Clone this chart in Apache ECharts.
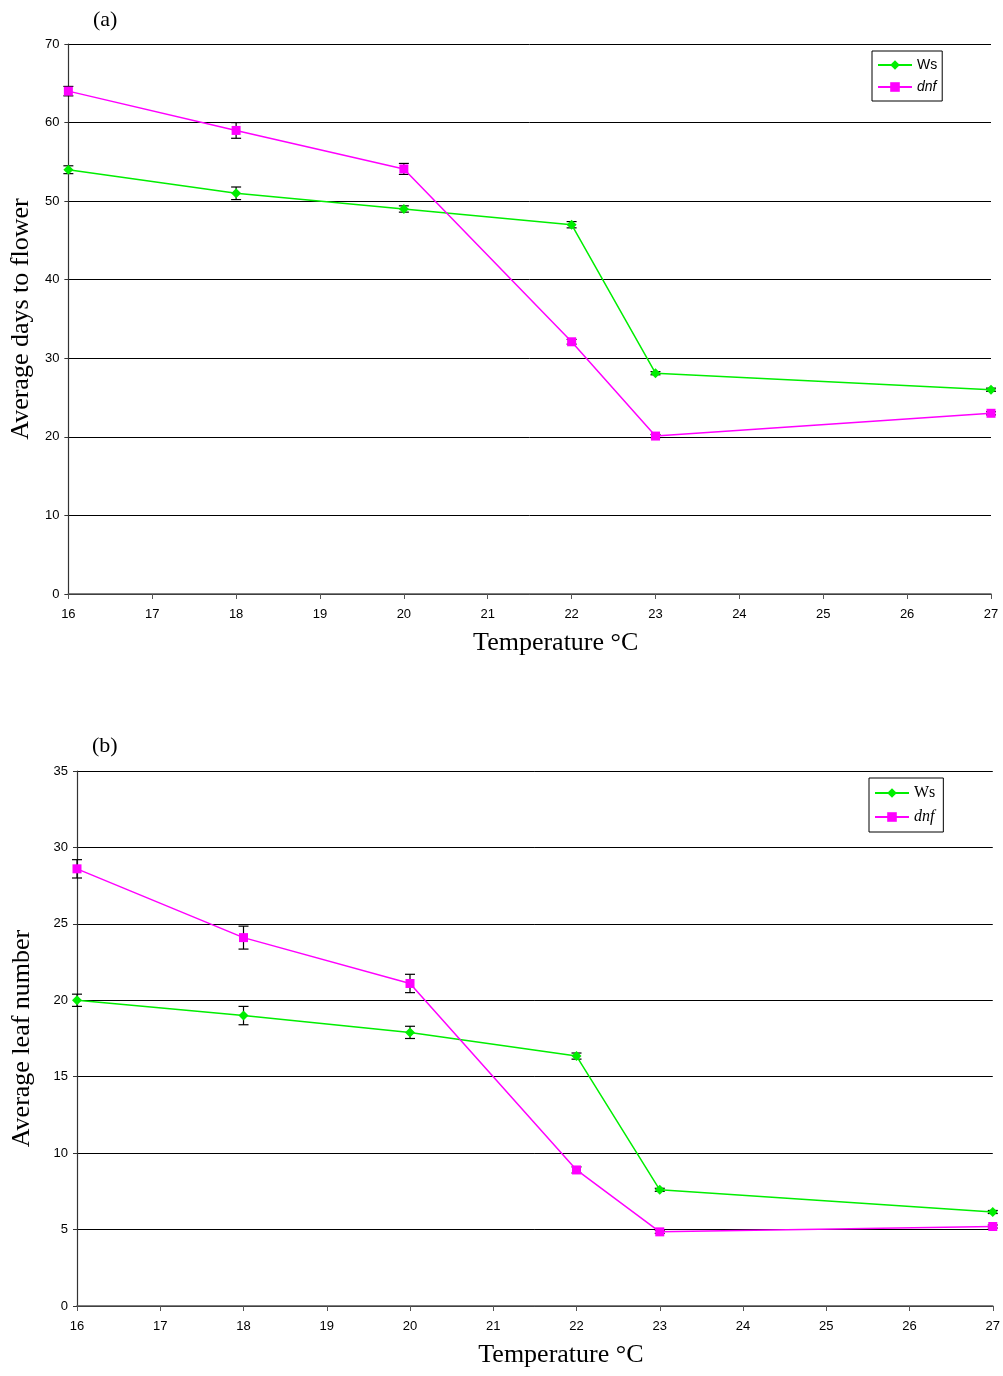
<!DOCTYPE html>
<html>
<head>
<meta charset="utf-8">
<style>
  html, body { margin: 0; padding: 0; background: #fff; }
  #chart { width: 1003px; height: 1376px; }
</style>
<script src="https://cdn.jsdelivr.net/npm/echarts@6/dist/echarts.min.js"></script>
</head>
<body>
<div id="chart"></div>
<script>
// Temperatures (x values, shared by both panels)
var temps = [16, 18, 20, 22, 23, 27];

// Panel (a): average days to flower
var daysWs = [54, 51, 49, 47, 28.1, 26];
var daysWsErr = [0.5, 0.8, 0.4, 0.4, 0.2, 0.2];
var daysDnf = [64, 59, 54.1, 32.1, 20.1, 23];
var daysDnfErr = [0.6, 1.0, 0.7, 0.3, 0.2, 0.2];

// Panel (b): average leaf number
var leafWs = [20.0, 19.0, 17.9, 16.35, 7.6, 6.15];
var leafWsErr = [0.4, 0.6, 0.4, 0.2, 0.1, 0.1];
var leafDnf = [28.6, 24.1, 21.1, 8.9, 4.85, 5.2];
var leafDnfErr = [0.6, 0.75, 0.6, 0.2, 0.1, 0.1];

var GREEN = '#00ee00';
var MAGENTA = '#ff00ff';

function pairs(xs, ys) {
  return xs.map(function (x, i) { return [x, ys[i]]; });
}

function errData(xs, ys, es) {
  return xs.map(function (x, i) { return [x, ys[i] - es[i], ys[i] + es[i]]; });
}

// draws a vertical error bar with caps
function renderErr(params, api) {
  var lo = api.coord([api.value(0), api.value(1)]);
  var hi = api.coord([api.value(0), api.value(2)]);
  var w = 5;
  var style = { stroke: '#000', lineWidth: 1.2 };
  return {
    type: 'group',
    children: [
      { type: 'line', shape: { x1: lo[0], y1: lo[1], x2: hi[0], y2: hi[1] }, style: style },
      { type: 'line', shape: { x1: lo[0] - w, y1: lo[1], x2: lo[0] + w, y2: lo[1] }, style: style },
      { type: 'line', shape: { x1: hi[0] - w, y1: hi[1], x2: hi[0] + w, y2: hi[1] }, style: style }
    ]
  };
}

function xAxisFor(idx) {
  return {
    type: 'value', gridIndex: idx, min: 16, max: 27, interval: 1,
    name: 'Temperature \u00b0C', nameLocation: 'middle', nameGap: 36,
    nameTextStyle: { fontFamily: 'Liberation Serif', fontSize: 26, color: '#000', padding: [0, 0, 0, 52] },
    axisLine: { lineStyle: { color: '#555', width: 1.5 } },
    axisTick: { show: true, length: 5, lineStyle: { color: '#555' } },
    axisLabel: { fontFamily: 'Liberation Sans', fontSize: 13, color: '#000', margin: 14 },
    splitLine: { show: false }
  };
}

function yAxisFor(idx, max, step, name, gap) {
  return {
    type: 'value', gridIndex: idx, min: 0, max: max, interval: step,
    name: name, nameLocation: 'middle', nameGap: gap,
    nameTextStyle: { fontFamily: 'Liberation Serif', fontSize: 26, color: '#000' },
    axisLine: { show: true, lineStyle: { color: '#333', width: 1.2 } },
    axisTick: { show: true, length: 4, lineStyle: { color: '#333' } },
    axisLabel: { fontFamily: 'Liberation Sans', fontSize: 13, color: '#000', margin: 9 },
    splitLine: { show: true, lineStyle: { color: '#000', width: 1 } }
  };
}

function lineSeries(name, idx, data, color, symbol) {
  return {
    name: name, type: 'line', xAxisIndex: idx, yAxisIndex: idx,
    data: data, symbol: symbol, symbolSize: symbol === 'rect' ? 9 : 10,
    lineStyle: { color: color, width: 1.5 },
    itemStyle: { color: color },
    z: 3, animation: false
  };
}

function errSeries(name, idx, data) {
  return {
    name: name, type: 'custom', xAxisIndex: idx, yAxisIndex: idx,
    data: data, renderItem: renderErr, z: 2, silent: true, animation: false,
    encode: { x: 0, y: [1, 2] }
  };
}

var chart = echarts.init(document.getElementById('chart'));

var option = {
  backgroundColor: '#fff',
  animation: false,
  title: [
    { text: '(a)', left: 88, top: 4, textStyle: { fontFamily: 'Liberation Serif', fontSize: 22, fontWeight: 'normal', color: '#000' } },
    { text: '(b)', left: 87, top: 730, textStyle: { fontFamily: 'Liberation Serif', fontSize: 22, fontWeight: 'normal', color: '#000' } }
  ],
  legend: [
    {
      left: 872, top: 51, orient: 'vertical', itemWidth: 34, itemHeight: 12, itemGap: 8,
      padding: [7, 5, 7, 5], borderColor: '#000', borderWidth: 1,
      textStyle: { fontFamily: 'Liberation Sans', fontSize: 14, color: '#000' },
      data: [{ name: 'Ws' }, { name: 'dnf', textStyle: { fontStyle: 'italic' } }]
    },
    {
      left: 869, top: 778, orient: 'vertical', itemWidth: 34, itemHeight: 12, itemGap: 8,
      padding: [7, 8, 7, 5], borderColor: '#000', borderWidth: 1,
      textStyle: { fontFamily: 'Liberation Serif', fontSize: 16, color: '#000' },
      data: [{ name: 'Ws' }, { name: 'dnf', textStyle: { fontStyle: 'italic' } }]
    }
  ],
  grid: [
    { left: 67, top: 44, width: 924, height: 550 },
    { left: 77, top: 771, width: 919, height: 535 }
  ],
  xAxis: [xAxisFor(0), xAxisFor(1)],
  yAxis: [
    yAxisFor(0, 70, 10, 'Average days to flower', 32),
    yAxisFor(1, 35, 5, 'Average leaf number', 42)
  ],
  series: [
    lineSeries('Ws', 0, pairs(temps, daysWs), GREEN, 'diamond'),
    lineSeries('dnf', 0, pairs(temps, daysDnf), MAGENTA, 'rect'),
    lineSeries('Ws', 1, pairs(temps, leafWs), GREEN, 'diamond'),
    lineSeries('dnf', 1, pairs(temps, leafDnf), MAGENTA, 'rect'),
    errSeries('Ws error', 0, errData(temps, daysWs, daysWsErr)),
    errSeries('dnf error', 0, errData(temps, daysDnf, daysDnfErr)),
    errSeries('Ws error', 1, errData(temps, leafWs, leafWsErr)),
    errSeries('dnf error', 1, errData(temps, leafDnf, leafDnfErr))
  ]
};

chart.setOption(option);
</script>
</body>
</html>
